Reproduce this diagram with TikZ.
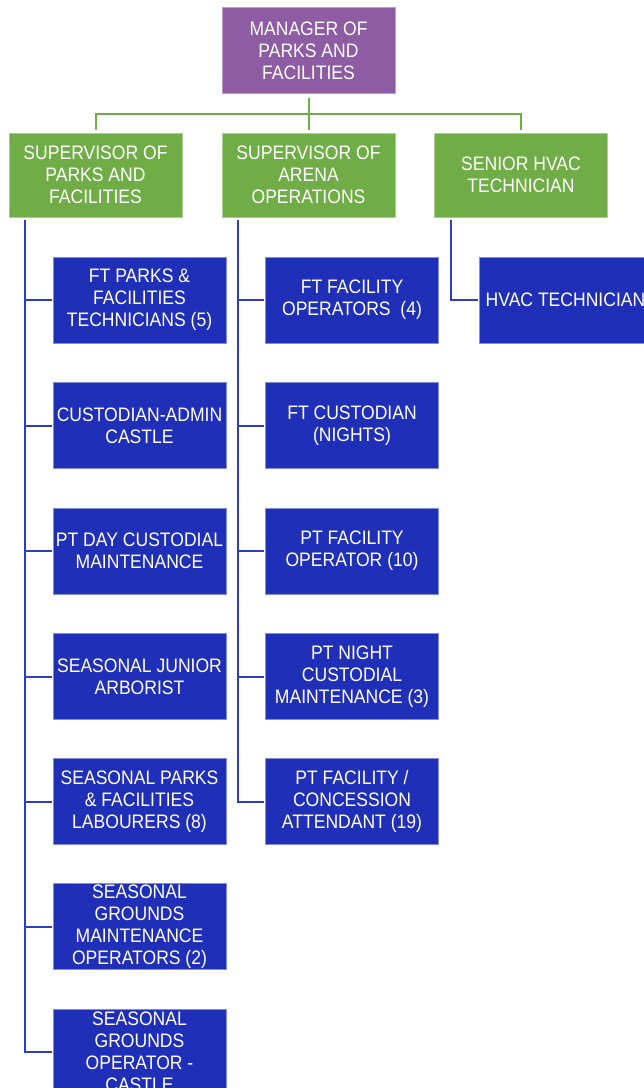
\documentclass[tikz,border=0pt]{standalone}
\usepackage{fontspec}
\setmainfont{Liberation Sans}[FakeStretch=0.9]
\usetikzlibrary{calc}
\definecolor{mgrpurple}{RGB}{142,92,162}
\definecolor{supgreen}{RGB}{112,173,71}
\definecolor{boxblue}{RGB}{32,47,184}
\definecolor{lineblue}{RGB}{46,62,196}
\begin{document}
\begin{tikzpicture}[x=1pt,y=-1pt,
  orgbox/.style={minimum width=173pt,minimum height=86pt,inner sep=0pt,align=center,
    text=white,font=\fontsize{19.5}{22}\selectfont},
  mgrbox/.style={orgbox,fill=mgrpurple,draw=mgrpurple!60!white,line width=0.6pt},
  supbox/.style={orgbox,minimum height=84pt,fill=supgreen,draw=supgreen!60!white,line width=0.6pt},
  staffbox/.style={orgbox,fill=boxblue,draw=boxblue!55!white,line width=0.6pt},
  greenline/.style={draw=supgreen,line width=2pt},
  blueline/.style={draw=lineblue,line width=2pt}]
\useasboundingbox (0,0) rectangle (644,1088);
\begin{scope}
\clip (0,0) rectangle (644,1088);
% manager
\node[mgrbox] (mgr) at (308.5,50.5) {MANAGER OF\\PARKS AND\\FACILITIES};
% supervisors
\node[supbox] (sup1) at (95.5,175) {SUPERVISOR OF\\PARKS AND\\FACILITIES};
\node[supbox] (sup2) at (308.5,175) {SUPERVISOR OF\\ARENA\\OPERATIONS};
\node[supbox] (sup3) at (521,175) {SENIOR HVAC\\TECHNICIAN};
% column 1
\node[staffbox] (a1) at (139.5,300) {FT PARKS \&\\FACILITIES\\TECHNICIANS (5)};
\node[staffbox] (a2) at (139.5,425.5) {CUSTODIAN-ADMIN\\CASTLE};
\node[staffbox] (a3) at (139.5,551) {PT DAY CUSTODIAL\\MAINTENANCE};
\node[staffbox] (a4) at (139.5,676.5) {SEASONAL JUNIOR\\ARBORIST};
\node[staffbox] (a5) at (139.5,801.5) {SEASONAL PARKS\\\& FACILITIES\\LABOURERS (8)};
\node[staffbox] (a6) at (139.5,926.5) {SEASONAL\\GROUNDS\\MAINTENANCE\\OPERATORS (2)};
\node[staffbox] (a7) at (139.5,1052) {SEASONAL\\GROUNDS\\OPERATOR -\\CASTLE};
% column 2
\node[staffbox] (b1) at (352,300) {FT FACILITY\\OPERATORS\ \ (4)};
\node[staffbox] (b2) at (352,425.5) {FT CUSTODIAN\\(NIGHTS)};
\node[staffbox] (b3) at (352,551) {PT FACILITY\\OPERATOR (10)};
\node[staffbox] (b4) at (352,676.5) {PT NIGHT\\CUSTODIAL\\MAINTENANCE (3)};
\node[staffbox] (b5) at (352,801.5) {PT FACILITY /\\CONCESSION\\ATTENDANT (19)};
% column 3
\node[staffbox] (c1) at (565.5,300) {HVAC TECHNICIAN};
% green connectors
\coordinate (bus) at ($(mgr.south)+(0,20)$);
\draw[greenline] ($(mgr.south)+(0,4)$) -- (bus);
\draw[greenline] (bus) -| ($(sup1.north)+(0,-3)$);
\draw[greenline] (bus) -| ($(sup3.north)+(0,-3)$);
\draw[greenline] (bus) -- ($(sup2.north)+(0,-3)$);
% blue connectors
\coordinate (s1) at ($(sup1.south west)+(16,3)$);
\coordinate (s2) at ($(sup2.south west)+(16,3)$);
\coordinate (s3) at ($(sup3.south west)+(17,3)$);
\foreach \n in {a1,a2,a3,a4,a5,a6,a7}{
  \draw[blueline] (s1) |- ($(\n.west)+(-1,0)$);
}
\foreach \n in {b1,b2,b3,b4,b5}{
  \draw[blueline] (s2) |- ($(\n.west)+(-1,0)$);
}
\draw[blueline] (s3) |- ($(c1.west)+(-1,0)$);
\end{scope}
\end{tikzpicture}
\end{document}
